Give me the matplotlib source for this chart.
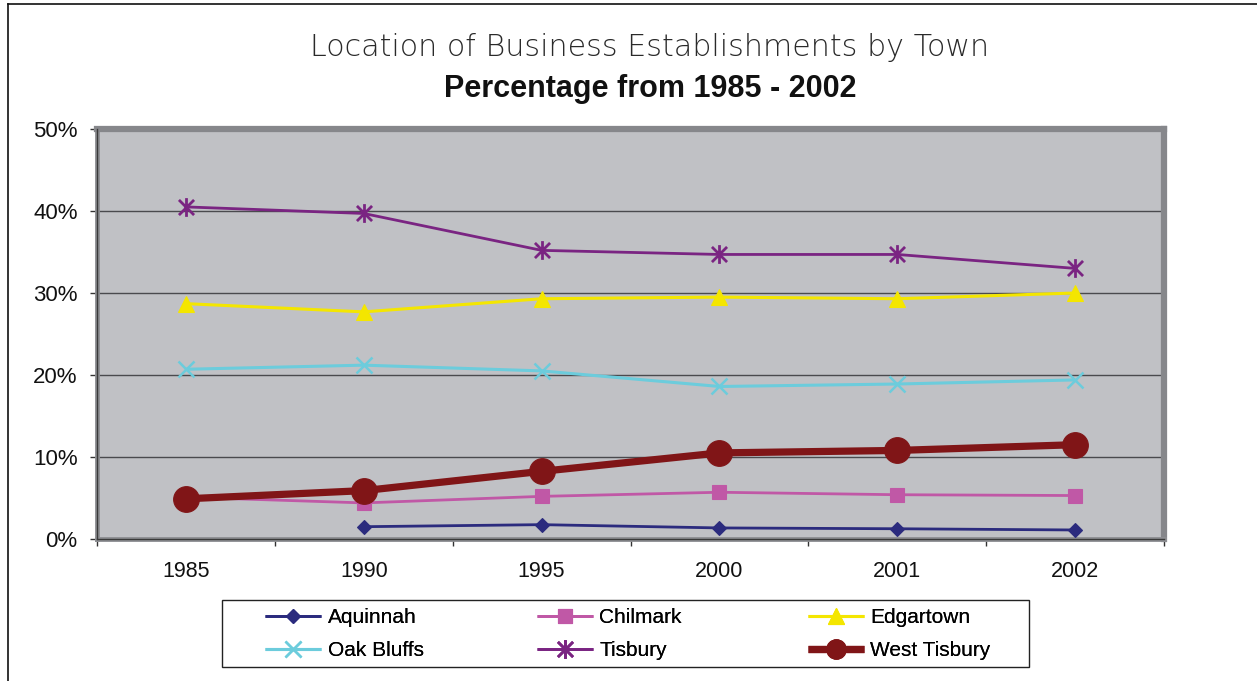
import matplotlib
matplotlib.use("Agg")
import matplotlib.pyplot as plt
import numpy as np
from matplotlib.path import Path
from matplotlib.lines import Line2D
from matplotlib.patches import Rectangle
from matplotlib.ticker import FuncFormatter, MultipleLocator

plt.rcParams['font.family'] = ['Liberation Sans', 'DejaVu Sans']

years = ["1985", "1990", "1995", "2000", "2001", "2002"]

aquinnah = [np.nan, 1.5, 1.75, 1.35, 1.25, 1.1]
chilmark = [5.1, 4.4, 5.2, 5.7, 5.4, 5.3]
edgartown = [28.7, 27.7, 29.3, 29.5, 29.3, 30.0]
oak_bluffs = [20.7, 21.2, 20.5, 18.6, 18.9, 19.4]
tisbury = [40.5, 39.7, 35.2, 34.7, 34.7, 33.0]
west_tisbury = [4.9, 5.9, 8.25, 10.5, 10.8, 11.5]

# asterisk marker: an X with a vertical bar through it
asterisk = Path(
    [(-0.5, -0.5), (0.5, 0.5), (-0.5, 0.5), (0.5, -0.5), (0, -0.62), (0, 0.62)],
    [Path.MOVETO, Path.LINETO, Path.MOVETO, Path.LINETO, Path.MOVETO, Path.LINETO],
)

series = [
    ("Aquinnah", aquinnah, dict(color="#2B2B7E", lw=2.0, marker="D", ms=7.5)),
    ("Chilmark", chilmark, dict(color="#C058A6", lw=2.0, marker="s", ms=10)),
    ("Edgartown", edgartown, dict(color="#F4E600", lw=2.2, marker="^", ms=12)),
    ("Oak Bluffs", oak_bluffs, dict(color="#6CCCDC", lw=2.2, marker="x", ms=11, mew=1.8)),
    ("Tisbury", tisbury, dict(color="#7A2482", lw=2.0, marker=asterisk, ms=13.5, mew=2.0)),
    ("West Tisbury", west_tisbury, dict(color="#801517", lw=5.2, marker="o", ms=18.5, leg_ms=14)),
]

fig = plt.figure(figsize=(12.57, 6.81), dpi=100)
ax = fig.add_axes([97 / 1257, 1 - 539 / 681, (1164 - 97) / 1257, (539 - 129) / 681])
ax.set_facecolor("#C0C1C5")

x = np.arange(len(years))
legend_handles = []
for name, vals, style in series:
    fill = style["color"]
    common = dict(
        color=style["color"],
        lw=style["lw"],
        marker=style["marker"],
        markeredgewidth=style.get("mew", 0.8),
        markerfacecolor=fill,
        markeredgecolor=fill,
        solid_capstyle="butt",
    )
    ax.plot(x, np.array(vals) / 100.0, markersize=style["ms"], label=name, zorder=3, **common)
    legend_handles.append(
        Line2D([], [], markersize=style.get("leg_ms", style["ms"]), label=name, **common)
    )

ax.set_xlim(-0.5, len(years) - 0.5)
ax.set_ylim(0, 0.5)

ax.yaxis.set_major_locator(MultipleLocator(0.1))
ax.yaxis.set_major_formatter(FuncFormatter(lambda v, p: f"{v * 100:.0f}%"))
ax.set_xticks(x)
ax.set_xticklabels(years)
ax.set_xticks(np.arange(-0.5, len(years), 1.0), minor=True)

ax.tick_params(axis="x", which="major", length=0, pad=16, labelsize=15.5, colors="#111111")
ax.tick_params(axis="x", which="minor", length=5, width=1, direction="out", color="#333333")
ax.tick_params(axis="y", which="major", length=5, width=1, direction="out",
               color="#333333", labelsize=16, labelcolor="#111111", pad=9)

for yv in [0.1, 0.2, 0.3, 0.4]:
    ax.axhline(yv, color="#4A4A4E", lw=1.0, zorder=1)

# plot-area frame: heavy grey border, thin dark axis lines on left/bottom
for side in ["top", "right"]:
    ax.spines[side].set_color("#86878B")
    ax.spines[side].set_linewidth(4.5)
for side in ["left", "bottom"]:
    ax.spines[side].set_color("#8E8F93")
    ax.spines[side].set_linewidth(3.5)
ax.add_line(Line2D([0, 0], [0, 1], transform=ax.transAxes, color="#3A3A3A", lw=1.0,
                   clip_on=False, zorder=5))
ax.add_line(Line2D([0, 1], [0, 0], transform=ax.transAxes, color="#3A3A3A", lw=1.0,
                   clip_on=False, zorder=5))

fig.text(0.517, 1 - 48 / 681, "Location of Business Establishments by Town",
         ha="center", va="center", fontsize=21.7, color="#2A2A2A",
         family=["DejaVu Sans"], fontweight="light")
fig.text(0.517, 1 - 89 / 681, "Percentage from 1985 - 2002",
         ha="center", va="center", fontsize=22, fontweight="bold", color="#111111")

# legend: three columns of two entries, placed individually inside one box
column_x = [265, 537, 808]
columns = [(0, 3), (1, 4), (2, 5)]
for cx, (top, bottom) in zip(column_x, columns):
    leg = fig.legend(
        handles=[legend_handles[top], legend_handles[bottom]],
        loc="center left",
        bbox_to_anchor=(cx / 1257, 1 - 634 / 681),
        ncol=1,
        fontsize=15,
        frameon=False,
        handlelength=2.7,
        handletextpad=0.3,
        labelspacing=0.68,
        borderpad=0.0,
        borderaxespad=0.0,
    )
    fig.add_artist(leg)
fig.add_artist(Rectangle((222 / 1257, 1 - 667 / 681), (1029 - 222) / 1257, 67 / 681,
                         transform=fig.transFigure, fill=False, edgecolor="#222222", lw=1.0))

# outer chart border (left and top edges)
fig.add_artist(Line2D([8 / 1257, 8 / 1257], [0, 1 - 4 / 681], transform=fig.transFigure,
                      color="#111111", lw=1.2))
fig.add_artist(Line2D([8 / 1257, 1], [1 - 4 / 681, 1 - 4 / 681], transform=fig.transFigure,
                      color="#111111", lw=1.2))

fig.savefig("out.png", dpi=100, facecolor="white")
